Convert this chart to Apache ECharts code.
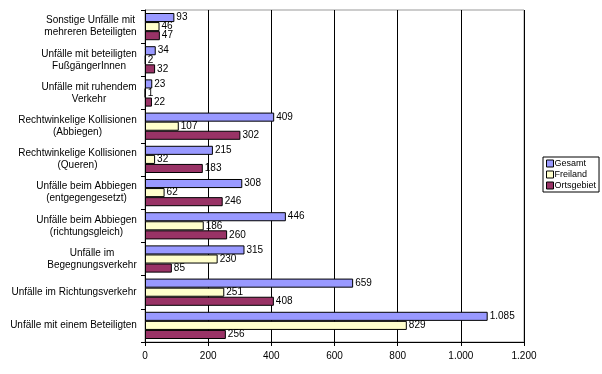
<!DOCTYPE html>
<html><head><meta charset="utf-8">
<script src="https://cdn.jsdelivr.net/npm/echarts@6/dist/echarts.min.js"></script>
<style>html,body{margin:0;padding:0;background:#fff}#c{width:602px;height:374px}</style>
</head><body><div id="c"></div>
<script>
var categories = [
  "Unfälle mit einem Beteiligten",
  "Unfälle im Richtungsverkehr",
  "Unfälle im\nBegegnungsverkehr",
  "Unfälle beim Abbiegen\n(richtungsgleich)",
  "Unfälle beim Abbiegen\n(entgegengesetzt)",
  "Rechtwinkelige Kollisionen\n(Queren)",
  "Rechtwinkelige Kollisionen\n(Abbiegen)",
  "Unfälle mit ruhendem\nVerkehr",
  "Unfälle mit beteiligten\nFußgängerInnen",
  "Sonstige Unfälle mit\nmehreren Beteiligten"
];
var gesamt = [1085, 659, 315, 446, 308, 215, 409, 23, 34, 93];
var freiland = [829, 251, 230, 186, 62, 32, 107, 1, 2, 46];
var ortsgebiet = [256, 408, 85, 260, 246, 183, 302, 22, 32, 47];
var seriesNames = ["Gesamt", "Freiland", "Ortsgebiet"];
var colors = ["#9999FF", "#FFFFCC", "#993366"];

function fmt(v){ return String(v).replace(/\B(?=(\d{3})+(?!\d))/g, "."); }
var FONT = "Liberation Sans, Arial, sans-serif";
var ctx = document.createElement("canvas").getContext("2d");
ctx.font = "10px " + FONT;
var rich = {};
categories.forEach(function(c, i){
  var w = 0;
  c.split("\n").forEach(function(l){ w = Math.max(w, Math.ceil(ctx.measureText(l).width)); });
  rich["r" + i] = {width: w, align: "center", fontSize: 10, fontFamily: FONT, color: "#000", lineHeight: 12};
});
function mk(name, data, color){
  return {
    name: name, type: "bar", data: data,
    itemStyle: {color: color, borderColor: "#000", borderWidth: 1},
    label: {show: true, position: "right", distance: 2, color: "#000", fontSize: 10, fontFamily: FONT,
            formatter: function(p){ return fmt(p.value); }},
    barGap: "0%", barCategoryGap: "18%",
    animation: false
  };
}
var chart = echarts.init(document.getElementById("c"), null, {renderer: "canvas"});
chart.setOption({
  animation: false,
  grid: {left: 145, right: 78, top: 10, bottom: 32, show: true, borderColor: "#999", borderWidth: 1},
  legend: {
    data: seriesNames, orient: "vertical", left: 543, top: 157,
    itemWidth: 7, itemHeight: 7, itemGap: 2, padding: [2, 3, 2, 3],
    borderColor: "#000", borderWidth: 1,
    icon: "rect",
    textStyle: {fontSize: 9, fontFamily: FONT, color: "#000", padding: [0,0,0,-4]},
    itemStyle: {borderColor: "#000", borderWidth: 1}
  },
  xAxis: {
    type: "value", min: 0, max: 1200, interval: 200,
    axisLine: {show: true, lineStyle: {color: "#000"}},
    axisTick: {show: true, length: 4, lineStyle: {color: "#000"}},
    splitLine: {show: true, lineStyle: {color: "#000", width: 1}},
    axisLabel: {color: "#000", fontSize: 10, fontFamily: FONT, margin: 9, formatter: function(v){ return fmt(v); }}
  },
  yAxis: {
    type: "category", data: categories,
    axisLine: {show: true, lineStyle: {color: "#000"}},
    axisTick: {show: true, length: 4, lineStyle: {color: "#000"}},
    axisLabel: {color: "#000", fontSize: 10, fontFamily: FONT, margin: 8, lineHeight: 12, align: "right",
      rich: rich,
      formatter: function(v, i){
        return v.split("\n").map(function(l){ return "{r" + i + "|" + l + "}"; }).join("\n");
      }}
  },
  series: [
    mk(seriesNames[0], gesamt, colors[0]),
    mk(seriesNames[1], freiland, colors[1]),
    mk(seriesNames[2], ortsgebiet, colors[2])
  ]
});
</script></body></html>
